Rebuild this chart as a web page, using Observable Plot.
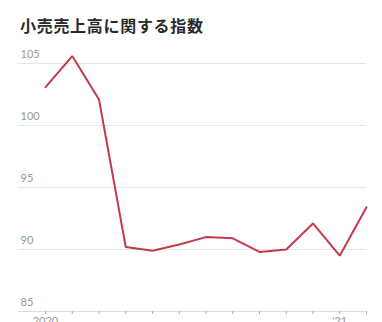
<!DOCTYPE html>
<html>
<head>
<meta charset="utf-8">
<script src="https://cdn.jsdelivr.net/npm/d3@7"></script>
<script src="https://cdn.jsdelivr.net/npm/@observablehq/plot@0.6"></script>
<style>
  html, body { margin: 0; padding: 0; background: #fff; }
  #title { font-family: "Noto Sans CJK JP", sans-serif; font-weight: 700; font-size: 16px; color: #2a2a2a; position: absolute; left: 20px; top: 14px; margin: 0; line-height: 22px; letter-spacing: 0.7px; }
  #chart { position: absolute; left: 0; top: 40px; }
</style>
</head>
<body>
<div id="title">小売売上高に関する指数</div>
<div id="chart"></div>
<script>
const months = [0, 1, 2, 3, 4, 5, 6, 7, 8, 9, 10, 11, 12];
const values = [103.1, 105.6, 102.1, 90.2, 89.9, 90.4, 91.0, 90.9, 89.8, 90.0, 92.1, 89.5, 93.4];
const yTicks = [85, 90, 95, 100, 105];
const xLabels = {0: "2020", 11: "'21"};

const data = months.map((m, i) => ({m, v: values[i]}));

const chart = Plot.plot({
  width: 382,
  height: 301,
  marginLeft: 18,
  marginRight: 16,
  marginTop: 23,
  marginBottom: 30,
  style: {fontFamily: "Lato, 'Noto Sans', sans-serif", fontSize: "11px", color: "#999", background: "#fff"},
  x: {domain: [0, 12], insetLeft: 27, insetRight: 0},
  y: {domain: [85, 105]},
  marks: [
    Plot.gridY(yTicks.filter(d => d !== 85), {stroke: "#e6e6e6", strokeOpacity: 1}),
    Plot.ruleY([85], {stroke: "#dddddd"}),
    Plot.axisY(yTicks, {tickSize: 0, tickPadding: 0, textAnchor: "start", dx: 2, dy: -9, fill: "#999", label: null}),
    Plot.axisX(months, {tickSize: 3, tickPadding: 3, stroke: "#aaa", fill: "#999", label: null, tickFormat: d => xLabels[d] ?? ""}),
    Plot.line(data, {x: "m", y: "v", stroke: "#c23a4c", strokeWidth: 2, strokeLinejoin: "miter"})
  ]
});
document.getElementById("chart").appendChild(chart);
</script>
</body>
</html>
